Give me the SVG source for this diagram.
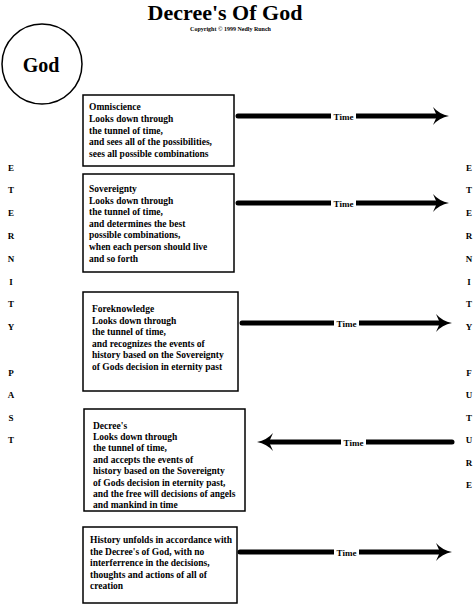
<svg xmlns="http://www.w3.org/2000/svg" width="474" height="605" viewBox="0 0 474 605">
<style>
  text { font-family: "Liberation Serif", "Times New Roman", serif; font-weight: bold; fill: #000; }
  .title { font-size: 22px; }
  .copy { font-size: 6px; }
  .god { font-size: 20px; }
  .box { fill: #fff; stroke: #000; stroke-width: 1.5; }
  .body { font-size: 9.5px; }
  .letter { font-size: 9px; text-anchor: middle; }
  .arrow { stroke: #000; stroke-width: 5; stroke-linecap: round; fill: none; marker-end: url(#head); }
  .lblbg { fill: #fff; }
  .lbl { font-size: 9px; text-anchor: middle; }
</style>
<defs>
  <marker id="head" markerUnits="userSpaceOnUse" markerWidth="16" markerHeight="18" viewBox="0 0 16 18" refX="5" refY="9" orient="auto">
    <path d="M0,0 Q6,7 16,9 Q6,11 0,18 L4,9 Z" fill="#000"/>
  </marker>
</defs>
<rect width="474" height="605" fill="#fff"/>

<g id="title">
  <text class="title" x="225" y="20" text-anchor="middle">Decree's Of God</text>
  <text class="copy" x="230.5" y="30.5" text-anchor="middle">Copyright © 1999 Nedly Runch</text>
</g>

<g id="god">
  <circle cx="42" cy="64" r="40" fill="#fff" stroke="#000" stroke-width="1.5"/>
  <text class="god" x="41" y="72" text-anchor="middle">God</text>
</g>

<g id="eternity-past">
  <text class="letter" x="11" y="170.5">E</text>
  <text class="letter" x="11" y="193.3">T</text>
  <text class="letter" x="11" y="216.1">E</text>
  <text class="letter" x="11" y="238.9">R</text>
  <text class="letter" x="11" y="261.7">N</text>
  <text class="letter" x="11" y="284.5">I</text>
  <text class="letter" x="11" y="307.3">T</text>
  <text class="letter" x="11" y="330.1">Y</text>
  <text class="letter" x="11" y="375.5">P</text>
  <text class="letter" x="11" y="398">A</text>
  <text class="letter" x="11" y="420.5">S</text>
  <text class="letter" x="11" y="443">T</text>
</g>

<g id="eternity-future">
  <text class="letter" x="469" y="170.5">E</text>
  <text class="letter" x="469" y="193.3">T</text>
  <text class="letter" x="469" y="216.1">E</text>
  <text class="letter" x="469" y="238.9">R</text>
  <text class="letter" x="469" y="261.7">N</text>
  <text class="letter" x="469" y="284.5">I</text>
  <text class="letter" x="469" y="307.3">T</text>
  <text class="letter" x="469" y="330.1">Y</text>
  <text class="letter" x="469" y="375.5">F</text>
  <text class="letter" x="469" y="398">U</text>
  <text class="letter" x="469" y="420.5">T</text>
  <text class="letter" x="469" y="443">U</text>
  <text class="letter" x="469" y="465.5">R</text>
  <text class="letter" x="469" y="488">E</text>
</g>

<g id="omniscience">
  <rect class="box" x="83" y="95" width="151" height="71"/>
  <text class="body" x="89" y="110">Omniscience</text>
  <text class="body" x="89" y="121.8">Looks down through</text>
  <text class="body" x="89" y="133.6">the tunnel of time,</text>
  <text class="body" x="89" y="145.4">and sees all of the possibilities,</text>
  <text class="body" x="89" y="157.2">sees all possible combinations</text>
</g>

<g id="sovereignty">
  <rect class="box" x="83" y="174" width="151" height="98"/>
  <text class="body" x="89" y="192">Sovereignty</text>
  <text class="body" x="89" y="203.6">Looks down through</text>
  <text class="body" x="89" y="215.2">the tunnel of time,</text>
  <text class="body" x="89" y="226.8">and determines the best</text>
  <text class="body" x="89" y="238.4">possible combinations,</text>
  <text class="body" x="89" y="250">when each person should live</text>
  <text class="body" x="89" y="261.6">and so forth</text>
</g>

<g id="foreknowledge">
  <rect class="box" x="83" y="292" width="155" height="99"/>
  <text class="body" x="92" y="312">Foreknowledge</text>
  <text class="body" x="92" y="323.5">Looks down through</text>
  <text class="body" x="92" y="335">the tunnel of time,</text>
  <text class="body" x="92" y="346.5">and recognizes the events of</text>
  <text class="body" x="92" y="358">history based on the Sovereignty</text>
  <text class="body" x="92" y="369.5">of Gods decision in eternity past</text>
</g>

<g id="decrees">
  <rect class="box" x="84" y="409" width="161" height="102"/>
  <text class="body" x="93" y="428.5">Decree's</text>
  <text class="body" x="93" y="439.9">Looks down through</text>
  <text class="body" x="93" y="451.3">the tunnel of time,</text>
  <text class="body" x="93" y="462.7">and accepts the events of</text>
  <text class="body" x="93" y="474.1">history based on the Sovereignty</text>
  <text class="body" x="93" y="485.5">of Gods decision in eternity past,</text>
  <text class="body" x="93" y="496.9">and the free will decisions of angels</text>
  <text class="body" x="93" y="508.3">and mankind in time</text>
</g>

<g id="history">
  <rect class="box" x="83" y="527" width="154" height="76"/>
  <text class="body" x="90" y="543">History unfolds in accordance with</text>
  <text class="body" x="90" y="554.6">the Decree's of God, with no</text>
  <text class="body" x="90" y="566.2">interferrence in the decisions,</text>
  <text class="body" x="90" y="577.8">thoughts and actions of all of</text>
  <text class="body" x="90" y="589.4">creation</text>
</g>

<g id="connectors">
  <line class="arrow" x1="238" y1="116" x2="438" y2="116"/>
  <rect class="lblbg" x="331" y="110" width="25" height="12"/>
  <text class="lbl" x="343.5" y="119.5">Time</text>

  <line class="arrow" x1="238" y1="203" x2="438" y2="203"/>
  <rect class="lblbg" x="331" y="197" width="25" height="12"/>
  <text class="lbl" x="343.5" y="206.5">Time</text>

  <line class="arrow" x1="242" y1="323" x2="441" y2="323"/>
  <rect class="lblbg" x="334" y="317" width="25" height="12"/>
  <text class="lbl" x="346.5" y="326.5">Time</text>

  <line class="arrow" x1="452" y1="442" x2="268" y2="442"/>
  <rect class="lblbg" x="341" y="436" width="25" height="12"/>
  <text class="lbl" x="353.5" y="445.5">Time</text>

  <line class="arrow" x1="240" y1="552" x2="441" y2="552"/>
  <rect class="lblbg" x="334" y="546" width="25" height="12"/>
  <text class="lbl" x="346.5" y="555.5">Time</text>
</g>
</svg>
